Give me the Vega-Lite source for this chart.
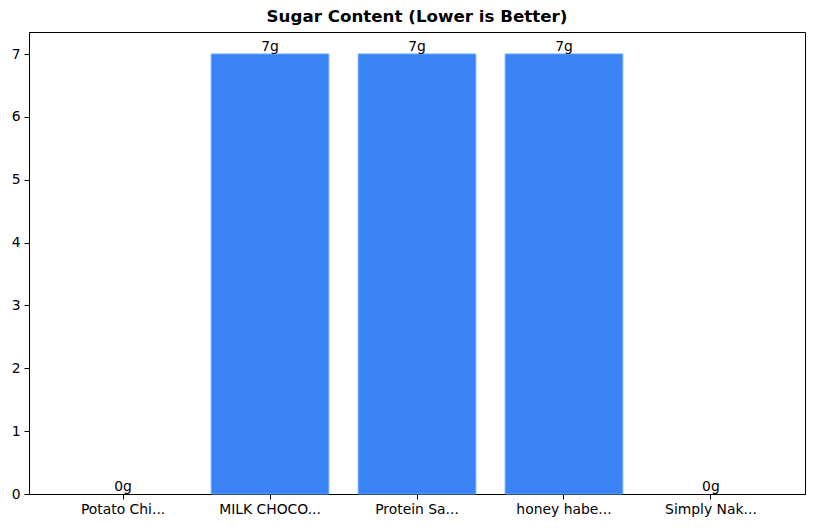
{
  "$schema": "https://vega.github.io/schema/vega-lite/v6.json",
  "width": 776,
  "height": 462,
  "autosize": {"type": "none"},
  "padding": {"left": 29, "top": 32, "right": 8, "bottom": 34},
  "background": "white",
  "title": {
    "text": "Sugar Content (Lower is Better)",
    "font": "DejaVu Sans",
    "fontSize": 16.7,
    "fontWeight": "bold",
    "color": "black",
    "offset": 6
  },
  "config": {
    "view": {"stroke": "black", "strokeWidth": 1},
    "axis": {
      "labelFont": "DejaVu Sans",
      "labelFontSize": 13.9,
      "labelColor": "black",
      "tickColor": "black",
      "domainColor": "black",
      "tickSize": 5,
      "grid": false,
      "title": null
    }
  },
  "data": {
    "values": [
      {"snack": "Potato Chi...", "sugar": 0, "label": "0g"},
      {"snack": "MILK CHOCO...", "sugar": 7, "label": "7g"},
      {"snack": "Protein Sa...", "sugar": 7, "label": "7g"},
      {"snack": "honey habe...", "sugar": 7, "label": "7g"},
      {"snack": "Simply Nak...", "sugar": 0, "label": "0g"}
    ]
  },
  "encoding": {
    "x": {
      "field": "snack",
      "type": "nominal",
      "sort": null,
      "scale": {"paddingInner": 0.2, "paddingOuter": 0.24},
      "axis": {"labelAngle": 0, "labelPadding": 3}
    },
    "y": {
      "field": "sugar",
      "type": "quantitative",
      "scale": {"domain": [0, 7.35], "nice": false},
      "axis": {"values": [0, 1, 2, 3, 4, 5, 6, 7], "labelPadding": 4}
    }
  },
  "layer": [
    {
      "mark": {"type": "bar", "color": "#3b82f6", "stroke": "#60a5fa", "strokeWidth": 1},
      "encoding": {
        "strokeOpacity": {"condition": {"test": "datum.sugar > 0", "value": 1}, "value": 0}
      }
    },
    {
      "mark": {"type": "text", "baseline": "bottom", "font": "DejaVu Sans", "fontSize": 13.9, "color": "black"},
      "encoding": {"text": {"field": "label"}}
    }
  ]
}
